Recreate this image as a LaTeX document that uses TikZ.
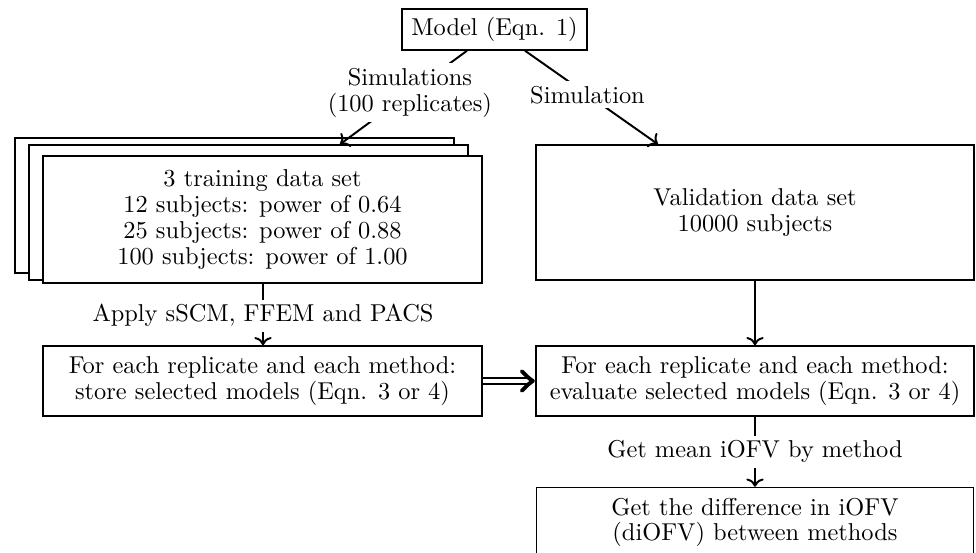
\documentclass[tikz,border=0pt]{standalone}
\usetikzlibrary{arrows.meta}
\newcommand\pxu{0.41pt}
\begin{document}
\begin{tikzpicture}[x=0.41pt,y=-0.41pt,
  txt/.style={font=\fontsize{10}{10.6}\selectfont},
  box/.style={draw, line width=0.6pt, fill=white, align=center, inner sep=0pt, txt},
  lab/.style={fill=white, align=center, inner sep=2pt, txt},
  arr/.style={line width=0.8pt, ->},
  chev/.style={line width=1.6pt, line cap=round, line join=round}]
\clip (0,0) rectangle (976,553);
% boxes
\node[box, minimum width=185*\pxu, minimum height=41*\pxu] (model) at (494.5,29.5) {Model (Eqn. 1)};
\node[box, minimum width=439*\pxu, minimum height=135*\pxu] (sh2) at (234.5,205.5) {};
\node[box, minimum width=439*\pxu, minimum height=135*\pxu] (sh1) at (248.5,212.5) {};
\node[box, minimum width=439*\pxu, minimum height=127*\pxu] (train) at (262.5,219.5)
  {3 training data set\\12 subjects: power of 0.64\\25 subjects: power of 0.88\\100 subjects: power of 1.00};
\node[box, minimum width=438*\pxu, minimum height=135*\pxu] (valid) at (755,212.5)
  {Validation data set\\10000 subjects};
\node[box, minimum width=439*\pxu, minimum height=70*\pxu] (store) at (262.5,381)
  {For each replicate and each method:\\store selected models (Eqn. 3 or 4)};
\node[box, minimum width=438*\pxu, minimum height=70*\pxu] (eval) at (755,381)
  {For each replicate and each method:\\evaluate selected models (Eqn. 3 or 4)};
\node[box, minimum width=437*\pxu, minimum height=70*\pxu] (diff) at (755,522.5)
  {Get the difference in iOFV\\(diOFV) between methods};
% connectors
\draw[arr] ([xshift=-27.5*\pxu]model.south) -- node[lab, pos=0.45] {Simulations\\(100 replicates)} ([xshift=91.5*\pxu]sh1.north);
\draw[arr] ([xshift=30.5*\pxu]model.south) -- node[lab, pos=0.47] {Simulation} ([xshift=-97*\pxu]valid.north);
\draw[arr] ([xshift=0.5*\pxu]train.south) -- node[lab, pos=0.52] {Apply sSCM, FFEM and PACS} ([xshift=0.5*\pxu]store.north);
\draw[arr] (valid.south) -- (eval.north);
\draw[arr] (eval.south) -- node[lab] {Get mean iOFV by method} (diff.north);
\draw[line width=0.8pt, double, double distance=1.4pt] (store.east) -- ([xshift=-2pt]eval.west);
\draw[chev] ([xshift=-5.5pt,yshift=4pt]eval.west) .. controls ([xshift=-2.5pt,yshift=1pt]eval.west) .. ([xshift=-1pt]eval.west)
  .. controls ([xshift=-2.5pt,yshift=-1pt]eval.west) .. ([xshift=-5.5pt,yshift=-4pt]eval.west);
\end{tikzpicture}
\end{document}
